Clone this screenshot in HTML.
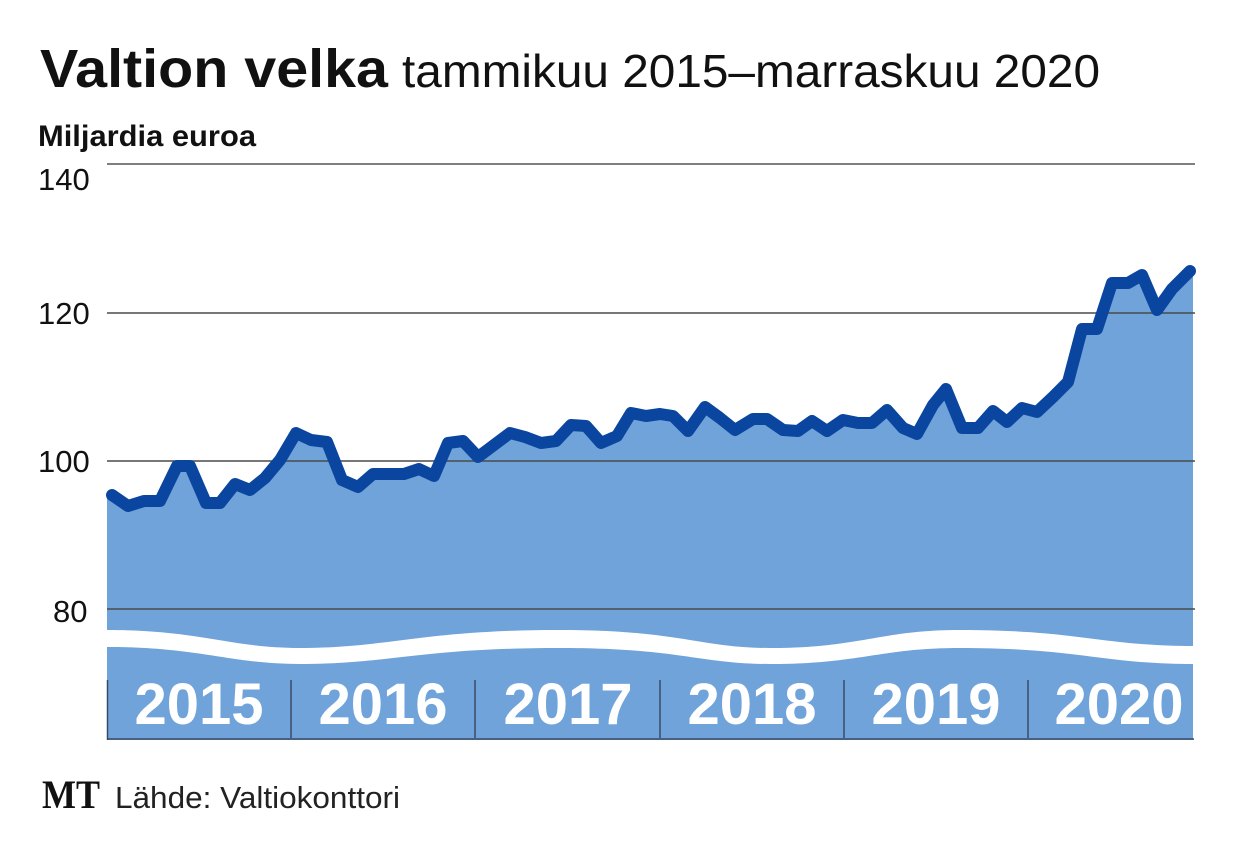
<!DOCTYPE html>
<html><head><meta charset="utf-8"><style>
body{margin:0;background:#fff;}
svg{display:block;}
</style></head><body>
<svg width="1240" height="854" viewBox="0 0 1240 854" xmlns="http://www.w3.org/2000/svg" font-family="Liberation Sans, sans-serif">
<rect width="1240" height="854" fill="#fff"/>
<text x="40" y="87" font-size="54" font-weight="bold" fill="#111" textLength="348" lengthAdjust="spacingAndGlyphs">Valtion velka</text>
<text x="402" y="87" font-size="46" fill="#111" textLength="698" lengthAdjust="spacingAndGlyphs">tammikuu 2015–marraskuu 2020</text>
<text x="38" y="146" font-size="30" font-weight="bold" fill="#111" textLength="218" lengthAdjust="spacingAndGlyphs">Miljardia euroa</text>
<g stroke="#555" stroke-width="1.5">
<line x1="107" y1="164" x2="1195" y2="164"/>
</g>
<path d="M107,740 L107,495 L112,495 L128,506 L144,501 L160,501 L177,466 L190,466 L206,503 L220,503 L235,484 L250,490 L265,478 L280,460 L296,433 L311,440 L327,442 L342,480 L358,487 L373,474 L389,474 L404,474 L419,469 L434,476 L448,443 L463,441 L478,457 L494,445 L510,433 L525,437 L541,443 L556,441 L571,425 L586,426 L601,443 L617,436 L631,413 L646,416 L660,414 L673,416 L688,431 L705,407 L720,418 L735,430 L753,419 L767,419 L783,430 L798,431 L812,421 L827,431 L843,420 L858,423 L872,423 L887,410 L903,428 L917,434 L933,405 L946,389 L962,428 L978,428 L993,411 L1007,422 L1022,408 L1037,412 L1053,397 L1068,382 L1082,329 L1097,329 L1112,283 L1128,283 L1142,275 L1157,310 L1172,289 L1193,271 L1193,740 Z" fill="#6fa3da"/>
<g stroke="#4a4a4a" stroke-width="1.5">
<line x1="107" y1="313" x2="1195" y2="313"/>
<line x1="107" y1="461" x2="1195" y2="461"/>
<line x1="107" y1="609" x2="1195" y2="609"/>
</g>
<path d="M107,630 C200,630 230,648 300,648 C390,648 420,630 560,630 C680,630 700,648 770,648 C860,648 880,630 960,630 C1080,630 1100,646 1195,646 L1195,664 C1100,664 1080,648 960,648 C880,648 860,664 770,664 C700,664 680,648 560,648 C420,648 390,664 300,664 C230,664 200,647 107,647 Z" fill="#fff"/>
<polyline fill="none" stroke="#0a469f" stroke-width="12" stroke-linejoin="round" stroke-linecap="round" points="112,495 128,506 144,501 160,501 177,466 190,466 206,503 220,503 235,484 250,490 265,478 280,460 296,433 311,440 327,442 342,480 358,487 373,474 389,474 404,474 419,469 434,476 448,443 463,441 478,457 494,445 510,433 525,437 541,443 556,441 571,425 586,426 601,443 617,436 631,413 646,416 660,414 673,416 688,431 705,407 720,418 735,430 753,419 767,419 783,430 798,431 812,421 827,431 843,420 858,423 872,423 887,410 903,428 917,434 933,405 946,389 962,428 978,428 993,411 1007,422 1022,408 1037,412 1053,397 1068,382 1082,329 1097,329 1112,283 1128,283 1142,275 1157,310 1172,289 1190,271"/>
<g stroke="#3a4a66" stroke-width="1.5">
<line x1="107.5" y1="680" x2="107.5" y2="740"/>
<line x1="291" y1="680" x2="291" y2="738"/>
<line x1="475" y1="680" x2="475" y2="738"/>
<line x1="660" y1="680" x2="660" y2="738"/>
<line x1="844" y1="680" x2="844" y2="738"/>
<line x1="1028" y1="680" x2="1028" y2="738"/>
<line x1="107" y1="739" x2="1194" y2="739"/>
</g>
<g font-size="58" font-weight="bold" fill="#fff" text-anchor="middle">
<text x="199" y="724">2015</text>
<text x="383" y="724">2016</text>
<text x="568" y="724">2017</text>
<text x="752" y="724">2018</text>
<text x="936" y="724">2019</text>
<text x="1119" y="724">2020</text>
</g>
<g font-size="31" fill="#111">
<text x="38" y="190">140</text>
<text x="38" y="324">120</text>
<text x="38" y="472">100</text>
<text x="53" y="622">80</text>
</g>
<text x="42" y="808" font-family="Liberation Serif, serif" font-size="40" font-weight="bold" fill="#111" textLength="58" lengthAdjust="spacingAndGlyphs">MT</text>
<text x="115" y="808" font-size="31" fill="#222" textLength="285" lengthAdjust="spacingAndGlyphs">Lähde: Valtiokonttori</text>
</svg>
</body></html>
